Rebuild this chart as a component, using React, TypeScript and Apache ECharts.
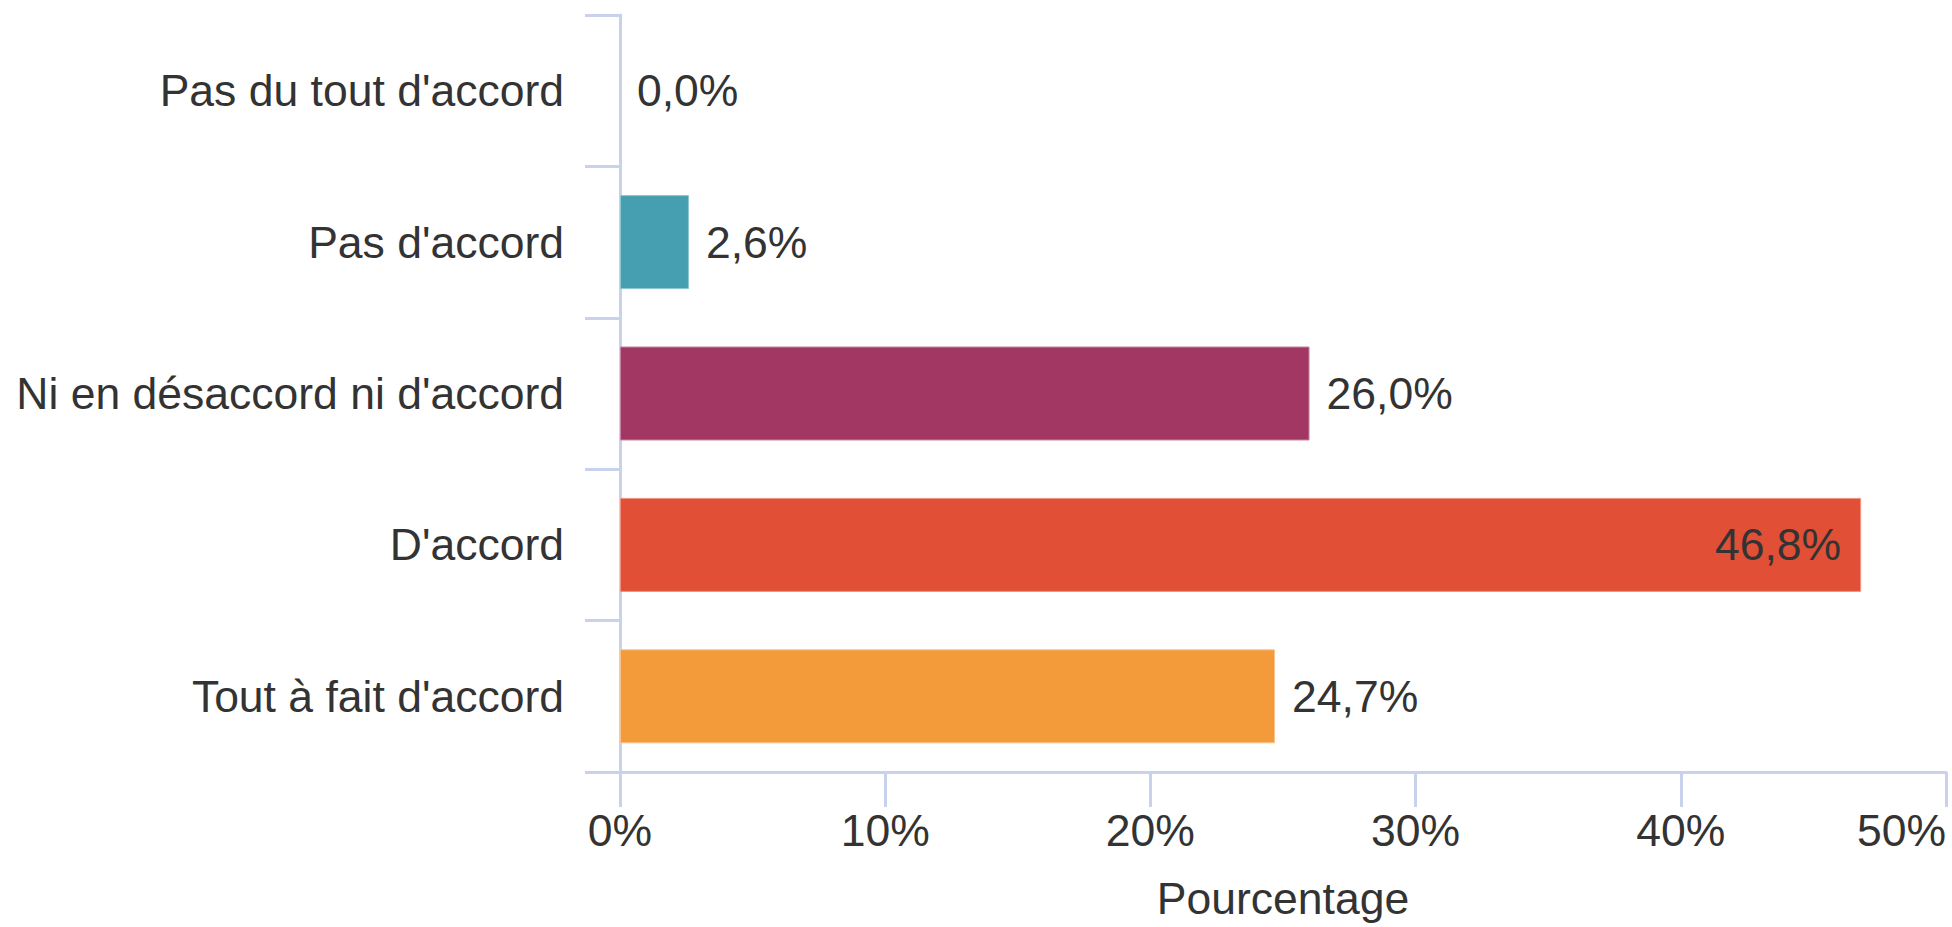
import React, { useEffect, useRef } from "react";
import * as echarts from "echarts";

const categories = [
  "Pas du tout d'accord",
  "Pas d'accord",
  "Ni en désaccord ni d'accord",
  "D'accord",
  "Tout à fait d'accord",
];
const values = [0.0, 2.6, 26.0, 46.8, 24.7];
const barColors = ["#459FB0", "#459FB0", "#A33764", "#E04F36", "#F39A3B"];
const borderColors = ["#8CC7D2", "#8CC7D2", "#C784A0", "#F0937F", "#F8C48C"];
const insideLabel = [false, false, false, true, false];
const xTicks = { min: 0, max: 50, interval: 10 };
const axisName = "Pourcentage";

const FONT = "'Liberation Sans', Arial, Helvetica, sans-serif";
const AXIS_COLOR = "#C8D2EC";
const TEXT_COLOR = "#333333";

export default function App() {
  const ref = useRef<HTMLDivElement>(null);
  useEffect(() => {
    if (!ref.current) return;
    const chart = echarts.init(ref.current, null, { renderer: "svg" });
    const fmt = (v: number) => v.toFixed(1).replace(".", ",") + "%";
    chart.setOption({
      animation: false,
      textStyle: { fontFamily: FONT },
      grid: { left: 620, top: 15, right: 6, bottom: 155, containLabel: false },
      xAxis: {
        type: "value",
        min: xTicks.min,
        max: xTicks.max,
        interval: xTicks.interval,
        name: axisName,
        nameLocation: "middle",
        nameGap: 104,
        nameTextStyle: { fontSize: 44.5, color: TEXT_COLOR, fontFamily: FONT },
        splitLine: { show: false },
        axisLine: { show: true, lineStyle: { color: AXIS_COLOR, width: 3 } },
        axisTick: { show: true, length: 35, lineStyle: { color: AXIS_COLOR, width: 3 } },
        axisLabel: {
          fontSize: 44.5,
          color: TEXT_COLOR,
          fontFamily: FONT,
          margin: 36,
          formatter: "{value}%",
          alignMaxLabel: "right",
        },
      },
      yAxis: {
        type: "category",
        inverse: true,
        data: categories,
        axisLine: { show: true, lineStyle: { color: AXIS_COLOR, width: 3 } },
        axisTick: { show: true, length: 35, alignWithLabel: false, lineStyle: { color: AXIS_COLOR, width: 3 } },
        axisLabel: { fontSize: 44.5, color: TEXT_COLOR, fontFamily: FONT, margin: 56 },
        splitLine: { show: false },
      },
      series: [
        {
          type: "bar",
          barWidth: 94,
          data: values.map((v, i) => ({
            value: v,
            itemStyle: {
              color: barColors[i],
              borderColor: borderColors[i],
              borderWidth: v > 0 ? 1 : 0,
            },
            label: {
              show: true,
              position: insideLabel[i] ? "insideRight" : "right",
              distance: insideLabel[i] ? 20 : 17,
              formatter: () => fmt(v),
              fontSize: 44.5,
              color: TEXT_COLOR,
              fontFamily: FONT,
            },
          })),
        },
      ],
    });
    return () => chart.dispose();
  }, []);
  return (
    <div
      ref={ref}
      style={{ position: "fixed", left: 0, top: 0, width: 1952, height: 927, background: "#fff" }}
    />
  );
}
